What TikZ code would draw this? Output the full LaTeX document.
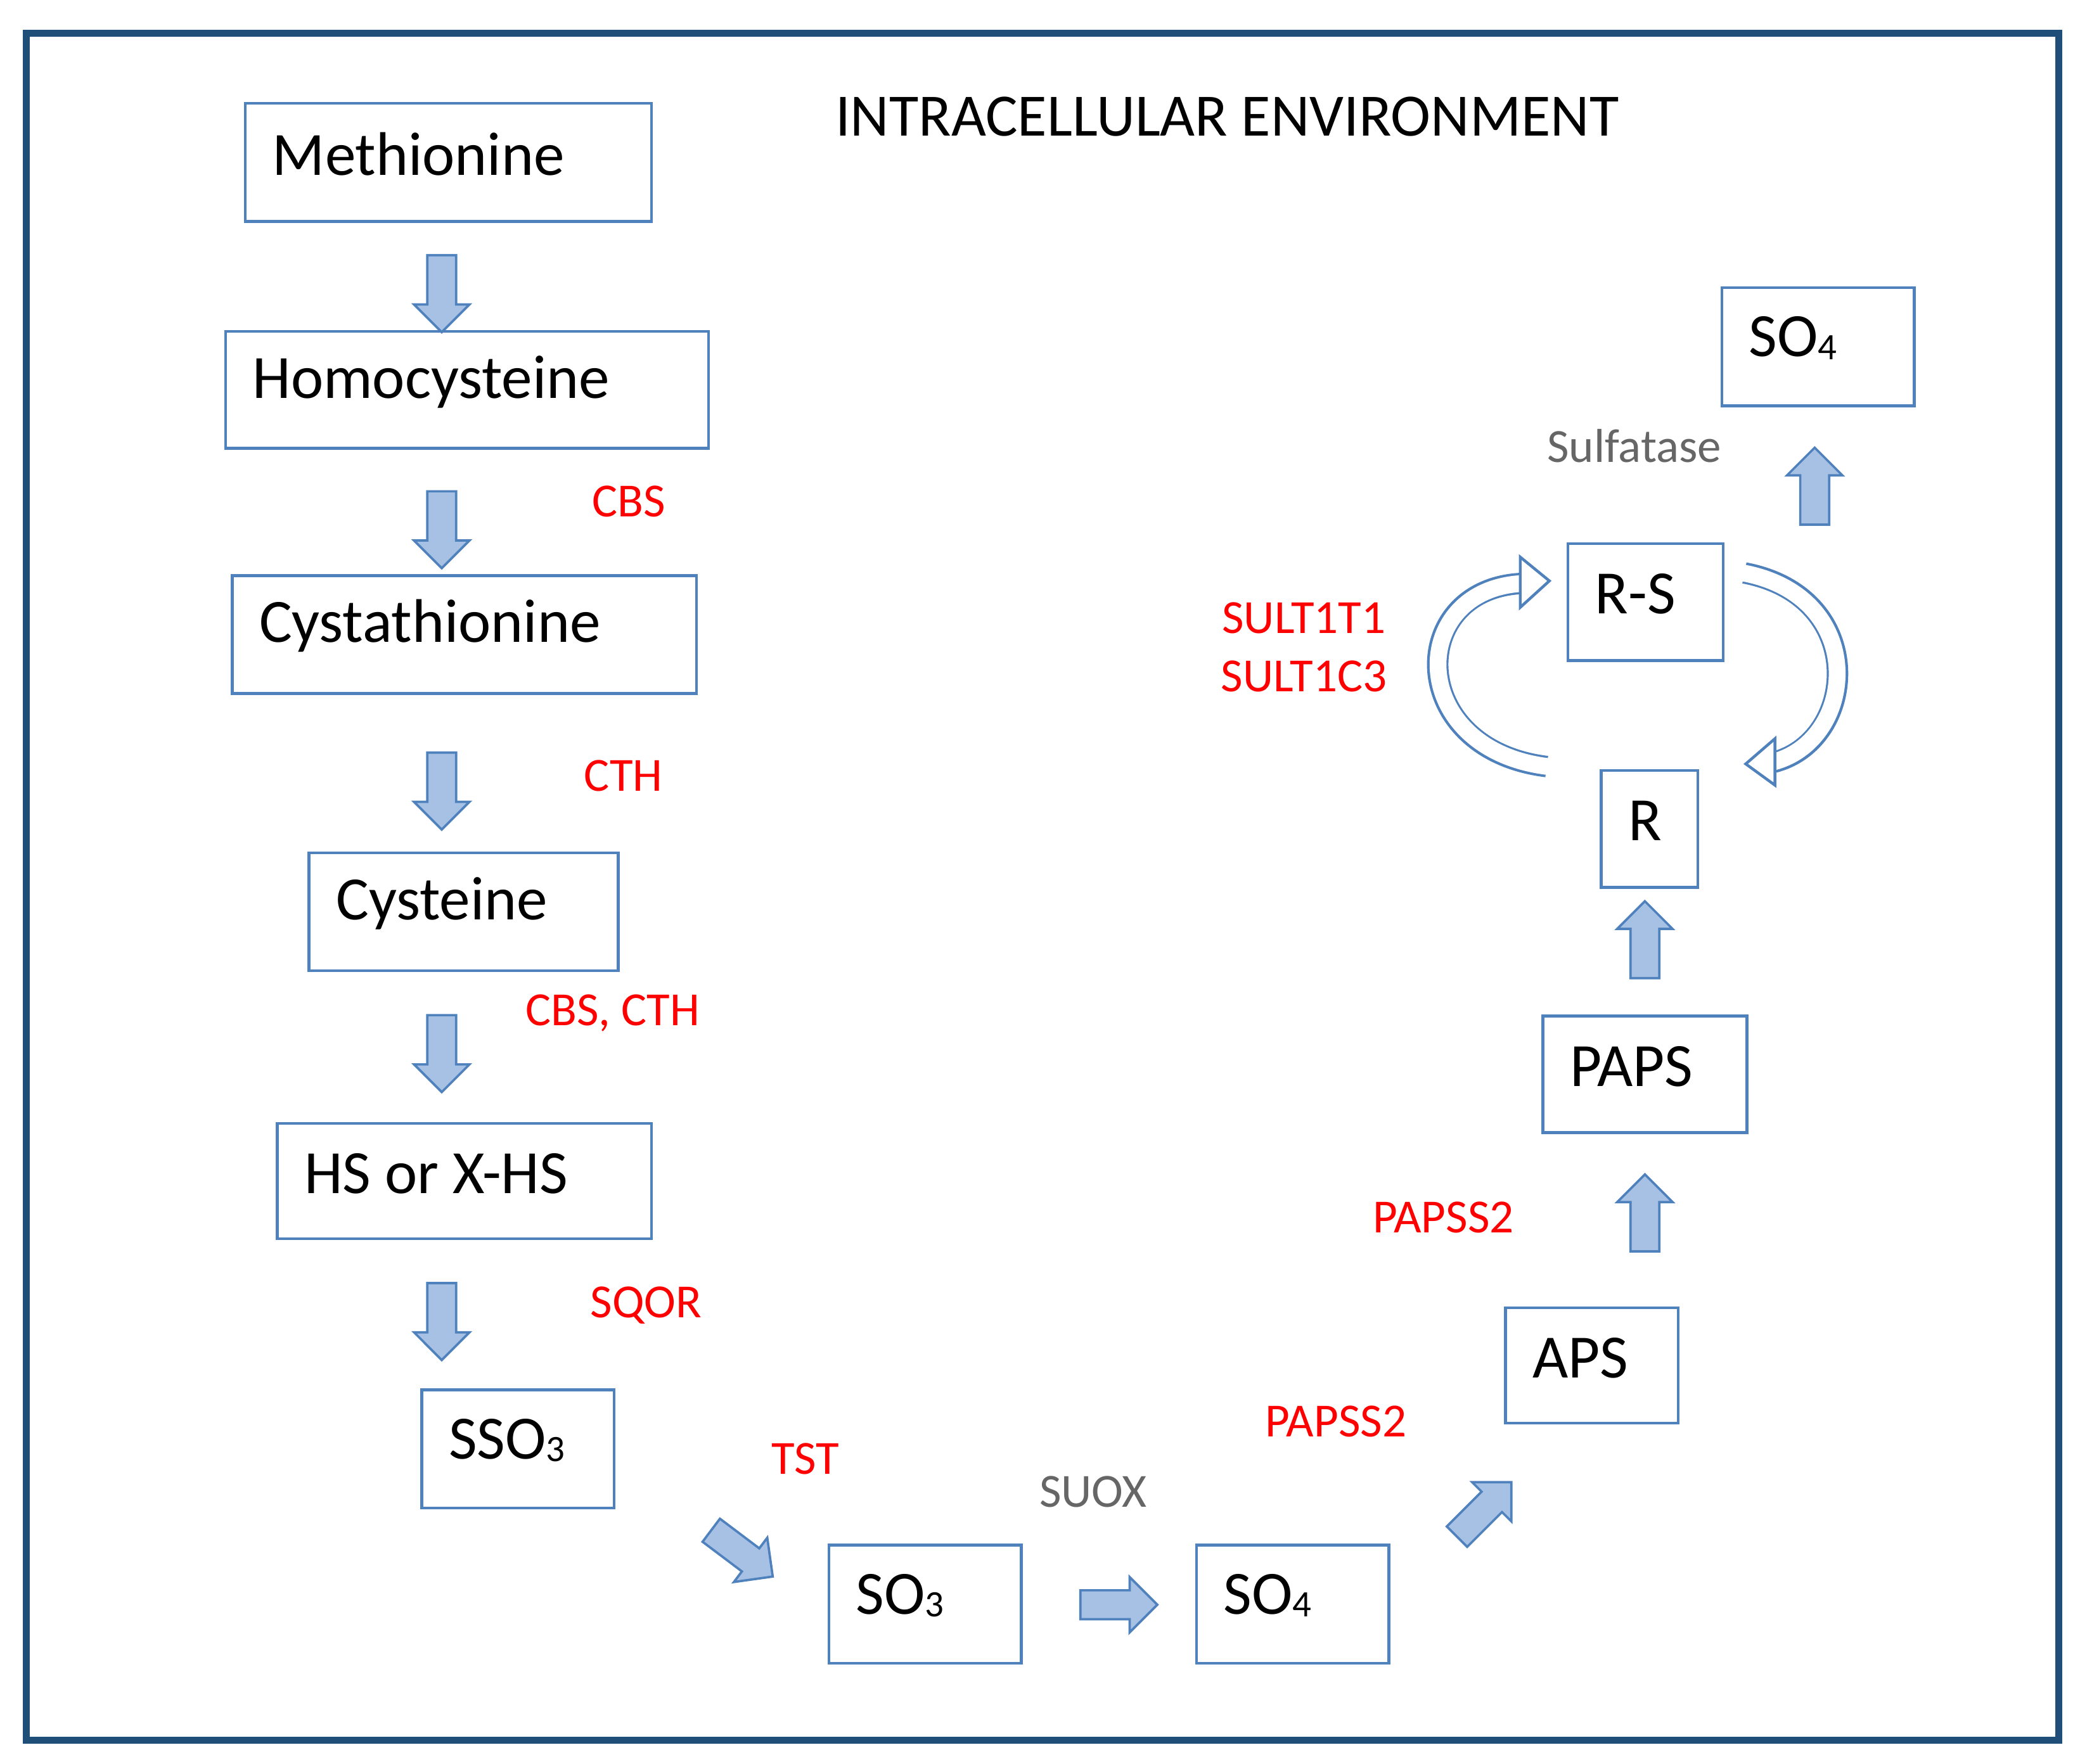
\documentclass[tikz,border=0pt]{standalone}
\usepackage{fontspec}
\setmainfont{Carlito}
\usetikzlibrary{shapes.arrows}
\definecolor{frameblue}{HTML}{1F4E79}
\definecolor{boxblue}{HTML}{4F81BD}
\definecolor{fillblue}{HTML}{A7C1E4}
\newcommand{\sbs}[1]{\raisebox{-0.1ex}{\fontsize{8}{8}\selectfont #1}}
\tikzset{
  mol/.style={draw=boxblue, line width=0.6pt, anchor=north west, inner sep=0pt},
  moltext/.style={anchor=west, font=\fontsize{13.2}{16}\selectfont},
  enz/.style={text=red, font=\fontsize{10.2}{12}\selectfont},
  enzgray/.style={text=black!60, font=\fontsize{10.2}{12}\selectfont},
  blockarrow/.style={single arrow, draw=boxblue, fill=fillblue, line width=0.5pt,
    minimum height=0.58cm, minimum width=0.4cm, single arrow head extend=0.1cm,
    inner sep=0.1cm},
}
\begin{document}
\begin{tikzpicture}[x=0.01cm, y=-0.01cm]
  \useasboundingbox (0,0) rectangle (1568,1330);
  % frame and title
  \draw[frameblue, line width=1.5pt] (20,25) rectangle (1552,1312);
  \node[font=\fontsize{12.9}{15}\selectfont] (title) at (925,88) {INTRACELLULAR ENVIRONMENT};

  % boxes: name/left/top/right/bottom/text
  \foreach \n/\l/\t/\r/\b/\txt in {
      met/185/78/491/167/Methionine,
      hcy/170/250/534/338/Homocysteine,
      cth/175/434/525/523/Cystathionine,
      cys/233/643/466/732/Cysteine,
      hs/209/847/491/934/HS or X-HS,
      sso/318/1048/463/1137/SSO\sbs{3},
      sothree/625/1165/770/1254/SO\sbs{3},
      sofour/902/1165/1047/1254/SO\sbs{4},
      aps/1135/986/1265/1073/APS,
      paps/1163/766/1317/854/PAPS,
      r/1207/581/1280/669/R,
      rs/1182/410/1299/498/R-S,
      sotop/1298/217/1443/306/SO\sbs{4}}{
    \draw[boxblue, line width=0.6pt] (\l,\t) rectangle (\r,\b);
    \node[moltext] (\n) at (\l+8,\t+38) {\txt};
  }

  % block arrows
  \foreach \x/\y/\a in {333/216/-90, 333/394/-90, 333/591/-90, 333/789/-90, 333/991/-90,
      1240/714/90, 1240/920/90, 1368/372/90, 838/1210/0, 555/1168/-37, 1115/1142/45}
    \node[blockarrow, rotate=\a] at (\x,\y) {};

  % hollow curved arrows round R-S
  \draw[boxblue, line width=4.6pt] (1166,578) .. controls (1060,565) and (1060,445) .. (1146,440);
  \draw[white, line width=3.6pt] (1167,578) .. controls (1060,565) and (1060,445) .. (1147,440);
  \draw[boxblue, fill=white, line width=0.6pt] (1146,420) -- (1168,438) -- (1146,458) -- cycle;
  \draw[boxblue, line width=4.6pt] (1315,432) .. controls (1410,450) and (1400,560) .. (1336,575);
  \draw[white, line width=3.6pt] (1314,432) .. controls (1410,450) and (1400,560) .. (1335,575);
  \draw[boxblue, fill=white, line width=0.6pt] (1338,557) -- (1316,576) -- (1338,592) -- cycle;

  % enzyme labels
  \node[enz] (cbs) at (474,378) {CBS};
  \node[enz] (cthl) at (470,585) {CTH};
  \node[enz] (cbscth) at (462,764) {CBS, CTH};
  \node[enz] (sqor) at (487,984) {SQOR};
  \node[enz] (tst) at (607,1100) {TST};
  \node[enzgray] (suox) at (824,1125) {SUOX};
  \node[enz] (papssa) at (1007,1072) {PAPSS2};
  \node[enz] (papssb) at (1088,918) {PAPSS2};
  \node[enz] (sulta) at (983,466) {SULT1T1};
  \node[enz] (sultb) at (983,510) {SULT1C3};
  \node[enzgray] (sulf) at (1232,336) {Sulfatase};
\end{tikzpicture}
\end{document}
